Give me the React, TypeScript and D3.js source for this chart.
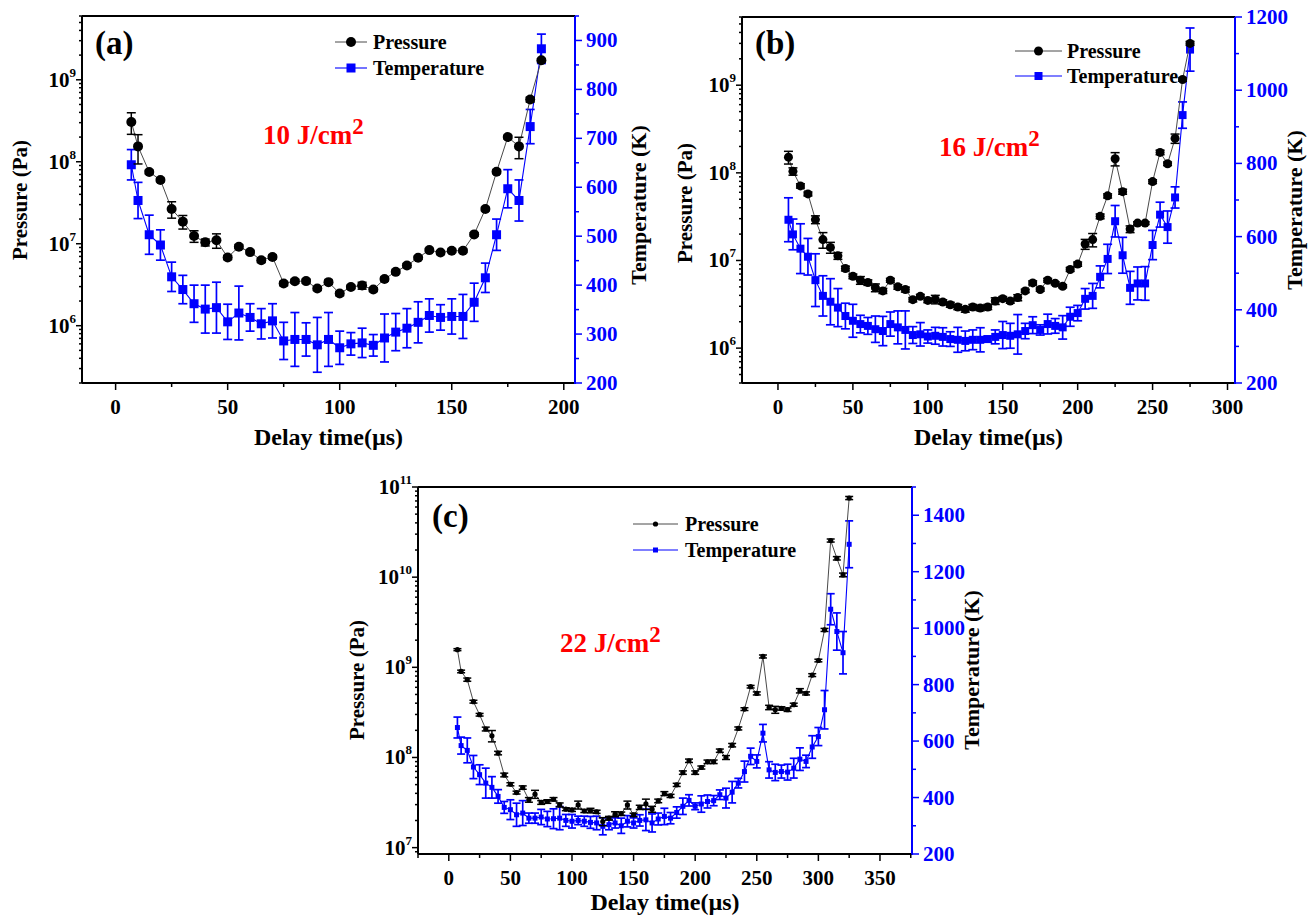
import React from "react";
import * as d3 from "d3";

// ---- panel (a) 10 J/cm2 ----
const aTime = [7, 10, 15, 20, 25, 30, 35, 40, 45, 50, 55, 60, 65, 70, 75, 80, 85, 90, 95, 100, 105, 110, 115, 120, 125, 130, 135, 140, 145, 150, 155, 160, 165, 170, 175, 180, 185, 190];
const aPressure = [3.06e8, 1.54e8, 7.5e7, 6.0e7, 2.65e7, 1.86e7, 1.24e7, 1.04e7, 1.1e7, 6.8e6, 9.2e6, 7.9e6, 6.3e6, 6.9e6, 3.27e6, 3.49e6, 3.5e6, 2.84e6, 3.4e6, 2.47e6, 2.97e6, 3.09e6, 2.76e6, 3.72e6, 4.54e6, 5.43e6, 6.75e6, 8.36e6, 7.8e6, 8.2e6, 8.2e6, 1.3e7, 2.65e7, 7.55e7, 2.0e8, 1.54e8, 5.74e8, 1.73e9];
const aPressureErr = [9e7, 6e7, 4e6, 3e6, 6e6, 3.5e6, 2e6, 1e6, 2.2e6, 4e5, 5e5, 4e5, 4e5, 4e5, 2e5, 2e5, 2e5, 1.5e5, 2e5, 1.5e5, 1.5e5, 3e5, 1.5e5, 2e5, 2e5, 3e5, 3e5, 4e5, 4e5, 4e5, 4e5, 6e5, 1.3e6, 4e6, 1e7, 4.5e7, 4e7, 8e7];
const aTemp = [646, 573, 503, 482, 417, 391, 362, 351, 354, 325, 343, 334, 321, 327, 286, 289, 289, 278, 289, 272, 280, 282, 277, 292, 304, 312, 324, 338, 334, 336, 336, 365, 415, 503, 597, 573, 724, 883];
const aTempErr = [31, 37, 40, 31, 30, 29, 38, 49, 52, 36, 55, 28, 31, 35, 38, 55, 34, 56, 55, 34, 23, 30, 22, 49, 38, 40, 42, 34, 26, 36, 45, 39, 30, 32, 39, 42, 35, 30];

// ---- panel (b) 16 J/cm2 ----
const bTime = [7, 10, 15, 20, 25, 30, 35, 40, 45, 50, 55, 60, 65, 70, 75, 80, 85, 90, 95, 100, 105, 110, 115, 120, 125, 130, 135, 140, 145, 150, 155, 160, 165, 170, 175, 180, 185, 190, 195, 200, 205, 210, 215, 220, 225, 230, 235, 240, 245, 250, 255, 260, 265, 270, 275];
const bPressure = [1.51e8, 1.04e8, 7.1e7, 5.75e7, 2.93e7, 1.73e7, 1.41e7, 1.13e7, 8.1e6, 6.6e6, 5.95e6, 5.6e6, 4.9e6, 4.5e6, 5.95e6, 5.0e6, 4.66e6, 3.57e6, 3.9e6, 3.5e6, 3.6e6, 3.36e6, 3.13e6, 2.95e6, 2.77e6, 2.95e6, 2.87e6, 2.95e6, 3.45e6, 3.67e6, 3.45e6, 3.77e6, 4.5e6, 5.55e6, 4.66e6, 5.95e6, 5.5e6, 5.08e6, 7.9e6, 9.1e6, 1.54e7, 1.73e7, 3.19e7, 5.46e7, 1.45e8, 6.1e7, 2.28e7, 2.67e7, 2.67e7, 7.94e7, 1.71e8, 1.27e8, 2.47e8, 1.16e9, 3.0e9];
const bPressureErr = [2.5e7, 1e7, 4e6, 3e6, 3e6, 3.5e6, 2e6, 1e6, 5e5, 4e5, 6e5, 4e5, 5e5, 3e5, 3e5, 3e5, 3e5, 2e5, 2e5, 2e5, 4e5, 2e5, 2e5, 2e5, 2e5, 2e5, 2e5, 2e5, 3e5, 2e5, 2e5, 3e5, 2e5, 3e5, 2e5, 3e5, 2e5, 2e5, 4e5, 5e5, 2e6, 3e6, 2e6, 3e6, 2.5e7, 4e6, 2e6, 1e6, 1e6, 4e6, 1e7, 6e6, 3e7, 5e7, 1.5e8];
const bTemp = [646, 606, 567, 545, 481, 438, 422, 406, 383, 370, 361, 356, 347, 342, 361, 352, 345, 331, 333, 327, 329, 326, 320, 318, 315, 318, 318, 320, 326, 331, 329, 333, 342, 358, 345, 361, 356, 352, 381, 391, 430, 438, 490, 539, 642, 549, 460, 472, 472, 577, 660, 626, 707, 932, 1111];
const bTempErr = [60, 42, 68, 50, 72, 55, 63, 52, 35, 45, 24, 23, 36, 40, 33, 45, 52, 23, 32, 18, 23, 25, 20, 34, 27, 27, 33, 8, 19, 37, 34, 54, 21, 23, 14, 27, 20, 32, 26, 21, 28, 34, 30, 40, 43, 49, 45, 45, 46, 40, 34, 44, 29, 36, 59];

// ---- panel (c) 22 J/cm2 ----
const cTime = [7, 10, 15, 20, 25, 30, 35, 40, 45, 50, 55, 60, 65, 70, 75, 80, 85, 90, 95, 100, 105, 110, 115, 120, 125, 130, 135, 140, 145, 150, 155, 160, 165, 170, 175, 180, 185, 190, 195, 200, 205, 210, 215, 220, 225, 230, 235, 240, 245, 250, 255, 260, 265, 270, 275, 280, 285, 290, 295, 300, 305, 310, 315, 320, 325];
const cPressure = [1.57e9, 9.0e8, 7.3e8, 4.16e8, 2.98e8, 2.07e8, 1.74e8, 1.12e8, 6.4e7, 5.05e7, 4.08e7, 4.64e7, 3.39e7, 3.92e7, 3.17e7, 3.25e7, 3.44e7, 2.98e7, 2.67e7, 2.62e7, 2.98e7, 2.55e7, 2.58e7, 2.5e7, 1.95e7, 2.12e7, 2.35e7, 2.38e7, 2.98e7, 2.31e7, 2.8e7, 3.05e7, 2.67e7, 3.3e7, 3.98e7, 3.75e7, 4.97e7, 6.8e7, 9.2e7, 6.8e7, 7.74e7, 8.96e7, 8.96e7, 1.19e8, 1.0e8, 1.37e8, 2.1e8, 3.44e8, 6.1e8, 5.14e8, 1.32e9, 3.59e8, 3.39e8, 3.5e8, 3.39e8, 3.85e8, 5.5e8, 5.14e8, 8.2e8, 1.19e9, 2.6e9, 2.55e10, 1.62e10, 1.06e10, 7.55e10];
const cPressureErr = [4e7, 3e7, 3e7, 1.5e7, 1e7, 1e7, 2.5e7, 5e6, 3e6, 2e6, 1.5e6, 2e6, 2e6, 4e6, 1.5e6, 1.5e6, 1.5e6, 1.5e6, 1e6, 1e6, 3e6, 1e6, 1.5e6, 1e6, 2e6, 1e6, 1.5e6, 1e6, 3e6, 1e6, 1.5e6, 4e6, 2e6, 1.5e6, 2e6, 1.5e6, 2e6, 3e6, 4e6, 3e6, 3e6, 4e6, 4e6, 5e6, 5e6, 6e6, 8e6, 1.2e7, 2e7, 2e7, 5e7, 2e7, 3e7, 1.5e7, 1.5e7, 1.5e7, 3e7, 2e7, 3e7, 4e7, 1e8, 1e9, 7e8, 5e8, 3e9];
const cTemp = [648, 584, 567, 508, 481, 451, 436, 404, 365, 357, 339, 345, 327, 327, 331, 324, 325, 327, 319, 316, 319, 316, 312, 310, 298, 304, 310, 300, 316, 310, 319, 321, 310, 324, 333, 327, 347, 369, 390, 369, 377, 386, 389, 410, 398, 419, 451, 492, 546, 528, 628, 498, 489, 492, 490, 504, 536, 528, 579, 616, 711, 1067, 988, 913, 1297];
const cTempErr = [37, 30, 44, 41, 35, 53, 38, 24, 21, 35, 41, 44, 18, 18, 27, 27, 35, 41, 21, 24, 15, 18, 21, 24, 30, 18, 18, 27, 20, 18, 20, 38, 32, 21, 29, 20, 20, 29, 20, 12, 29, 23, 18, 17, 35, 38, 17, 37, 29, 23, 31, 29, 29, 23, 28, 35, 40, 22, 40, 32, 68, 55, 66, 75, 83];

// tick values
const aXTicks = [0, 50, 100, 150, 200];
const bXTicks = [0, 50, 100, 150, 200, 250, 300];
const cXTicks = [0, 50, 100, 150, 200, 250, 300, 350];
const aTTicks = [200, 300, 400, 500, 600, 700, 800, 900];
const bTTicks = [200, 400, 600, 800, 1000, 1200];
const cTTicks = [200, 400, 600, 800, 1000, 1200, 1400];

const FONT = "'Liberation Serif', 'Times New Roman', serif";
const BLUE = "#0000ff";
const RED = "#ff0000";

type Cfg = {
  name: string;
  energy: string;
  time: number[];
  pressure: number[];
  pressureErr: number[];
  temp: number[];
  tempErr: number[];
  xTicks: number[];
  tTicks: number[];
  xDomain: [number, number];
  pDomain: [number, number];
  tDomain: [number, number];
  left: number;
  right: number;
  top: number;
  bottom: number;
  pR: number;
  tSize: number;
  cap: number;
  nameX: number;
  nameY: number;
  energyX: number;
  energyY: number;
  legX1: number;
  legX2: number;
  legText: number;
  legY1: number;
  legY2: number;
  pTitleX: number;
  pTitleY: number;
  tTitleX: number;
  tTitleY: number;
  xTitleY: number;
};

const panels: Cfg[] = [
  {
    name: "(a)", energy: "10 J/cm", time: aTime, pressure: aPressure, pressureErr: aPressureErr,
    temp: aTemp, tempErr: aTempErr, xTicks: aXTicks, tTicks: aTTicks,
    xDomain: [-15, 205], pDomain: [2e5, 6e9], tDomain: [200, 950],
    left: 82, right: 575, top: 16, bottom: 383, pR: 5, tSize: 9, cap: 4.5,
    nameX: 95, nameY: 54, energyX: 263, energyY: 144,
    legX1: 335, legX2: 367, legText: 373, legY1: 42, legY2: 68,
    pTitleX: 20, pTitleY: 200, tTitleX: 639, tTitleY: 205, xTitleY: 445,
  },
  {
    name: "(b)", energy: "16 J/cm", time: bTime, pressure: bPressure, pressureErr: bPressureErr,
    temp: bTemp, tempErr: bTempErr, xTicks: bXTicks, tTicks: bTTicks,
    xDomain: [-24, 305], pDomain: [4e5, 6e9], tDomain: [200, 1200],
    left: 742, right: 1235, top: 17, bottom: 383, pR: 4.5, tSize: 8, cap: 4.5,
    nameX: 755, nameY: 54, energyX: 939, energyY: 156,
    legX1: 1015, legX2: 1062, legText: 1067, legY1: 51, legY2: 76,
    pTitleX: 685, pTitleY: 203, tTitleX: 1295, tTitleY: 210, xTitleY: 445,
  },
  {
    name: "(c)", energy: "22 J/cm", time: cTime, pressure: cPressure, pressureErr: cPressureErr,
    temp: cTemp, tempErr: cTempErr, xTicks: cXTicks, tTicks: cTTicks,
    xDomain: [-25, 376], pDomain: [8.5e6, 1e11], tDomain: [200, 1500],
    left: 418, right: 912, top: 487, bottom: 854, pR: 2.6, tSize: 5, cap: 4,
    nameX: 432, nameY: 527, energyX: 560, energyY: 652,
    legX1: 633, legX2: 678, legText: 685, legY1: 524, legY2: 550,
    pTitleX: 357, pTitleY: 680, tTitleX: 972, tTitleY: 670, xTitleY: 910,
  },
];

function Panel({ p }: { p: Cfg }) {
  const x = d3.scaleLinear().domain(p.xDomain).range([p.left, p.right]);
  const yP = d3.scaleLog().domain(p.pDomain).range([p.bottom, p.top]);
  const yT = d3.scaleLinear().domain(p.tDomain).range([p.bottom, p.top]);

  const pLine = d3.line<number>().x((_, i) => x(p.time[i])).y((v) => yP(v));
  const tLine = d3.line<number>().x((_, i) => x(p.time[i])).y((v) => yT(v));

  const logTicks = yP.ticks();
  const isMajor = (v: number) => Math.abs(Math.log10(v) - Math.round(Math.log10(v))) < 1e-6;
  const xMinor = d3.range(Math.ceil(p.xDomain[0] / 25) * 25, p.xDomain[1], 25);
  const tStep = p.tTicks[1] - p.tTicks[0];
  const tMinor = d3.range(p.tDomain[0], p.tDomain[1] + 0.1, tStep / 2);

  const midX = (p.left + p.right) / 2;
  const half = p.tSize / 2;

  return (
    <g>
      {/* temperature series */}
      <path d={tLine(p.temp) || ""} fill="none" stroke={BLUE} strokeWidth={1.1} />
      {p.temp.map((v, i) => {
        const cx = x(p.time[i]);
        const y1 = yT(v + p.tempErr[i]);
        const y2 = yT(v - p.tempErr[i]);
        return (
          <g key={"t" + i} stroke={BLUE} strokeWidth={1.7}>
            <line x1={cx} x2={cx} y1={y1} y2={y2} />
            <line x1={cx - p.cap} x2={cx + p.cap} y1={y1} y2={y1} />
            <line x1={cx - p.cap} x2={cx + p.cap} y1={y2} y2={y2} />
            <rect x={cx - half} y={yT(v) - half} width={p.tSize} height={p.tSize} fill={BLUE} stroke="none" />
          </g>
        );
      })}

      {/* pressure series */}
      <path d={pLine(p.pressure) || ""} fill="none" stroke="#4a4a4a" strokeWidth={1} />
      {p.pressure.map((v, i) => {
        const cx = x(p.time[i]);
        const y1 = yP(v + p.pressureErr[i]);
        const y2 = yP(Math.max(v - p.pressureErr[i], v * 0.05));
        return (
          <g key={"p" + i} stroke="#000" strokeWidth={1.5}>
            <line x1={cx} x2={cx} y1={y1} y2={y2} />
            <line x1={cx - p.cap} x2={cx + p.cap} y1={y1} y2={y1} />
            <line x1={cx - p.cap} x2={cx + p.cap} y1={y2} y2={y2} />
            <circle cx={cx} cy={yP(v)} r={p.pR} fill="#000" stroke="none" />
          </g>
        );
      })}

      {/* frame */}
      <line x1={p.left} x2={p.right} y1={p.top} y2={p.top} stroke="#000" strokeWidth={2} />
      <line x1={p.left} x2={p.left} y1={p.top} y2={p.bottom} stroke="#000" strokeWidth={2} />
      <line x1={p.left} x2={p.right} y1={p.bottom} y2={p.bottom} stroke="#000" strokeWidth={2} />
      <line x1={p.right} x2={p.right} y1={p.top} y2={p.bottom + 1} stroke={BLUE} strokeWidth={2} />

      {/* left log axis */}
      {logTicks.map((v, i) => {
        const yy = yP(v);
        const major = isMajor(v);
        return <line key={"lt" + i} x1={p.left} x2={p.left - (major ? 6 : 3)} y1={yy} y2={yy} stroke="#000" strokeWidth={1.5} />;
      })}
      {logTicks.filter(isMajor).map((v) => {
        const e = Math.round(Math.log10(v));
        return (
          <text key={"ll" + e} x={p.left - 6} y={yP(v) + 7} textAnchor="end" fontSize={21} fontWeight="bold" fill="#000">
            10<tspan dy={-10} fontSize={13}>{e}</tspan>
          </text>
        );
      })}

      {/* bottom axis */}
      {xMinor.map((v) => {
        const major = v % 50 === 0;
        return <line key={"xt" + v} x1={x(v)} x2={x(v)} y1={p.bottom} y2={p.bottom + (major ? 7 : 4)} stroke="#000" strokeWidth={1.5} />;
      })}
      {p.xTicks.map((v) => (
        <text key={"xl" + v} x={x(v)} y={p.bottom + 31} textAnchor="middle" fontSize={21} fontWeight="bold" fill="#000">
          {v}
        </text>
      ))}

      {/* right temperature axis */}
      {tMinor.map((v) => {
        const major = (v - p.tDomain[0]) % tStep === 0;
        return <line key={"rt" + v} x1={p.right} x2={p.right + (major ? 7 : 4)} y1={yT(v)} y2={yT(v)} stroke={BLUE} strokeWidth={1.5} />;
      })}
      {p.tTicks.map((v) => (
        <text key={"rl" + v} x={p.right + 11} y={yT(v) + 7} textAnchor="start" fontSize={21} fontWeight="bold" fill={BLUE}>
          {v}
        </text>
      ))}

      {/* titles */}
      <text transform={`translate(${p.pTitleX},${p.pTitleY}) rotate(-90)`} y={7} textAnchor="middle" fontSize={21} fontWeight="bold" fill="#000">
        Pressure (Pa)
      </text>
      <text transform={`translate(${p.tTitleX},${p.tTitleY}) rotate(-90)`} y={7} textAnchor="middle" fontSize={22} fontWeight="bold" fill="#000">
        Temperature (K)
      </text>
      <text x={midX} y={p.xTitleY} textAnchor="middle" fontSize={24} fontWeight="bold" fill="#000">
        Delay time(µs)
      </text>

      {/* annotations */}
      <text x={p.nameX} y={p.nameY} fontSize={33} fontWeight="bold" fill="#000">
        {p.name}
      </text>
      <text x={p.energyX} y={p.energyY} fontSize={27} fontWeight="bold" fill={RED}>
        {p.energy}
        <tspan dy={-10} fontSize={23}>2</tspan>
      </text>

      {/* legend */}
      <line x1={p.legX1} x2={p.legX2} y1={p.legY1} y2={p.legY1} stroke="#4a4a4a" strokeWidth={1} />
      <circle cx={(p.legX1 + p.legX2) / 2} cy={p.legY1} r={p.pR} fill="#000" />
      <text x={p.legText} y={p.legY1 + 7} fontSize={20} fontWeight="bold" fill="#000">
        Pressure
      </text>
      <line x1={p.legX1} x2={p.legX2} y1={p.legY2} y2={p.legY2} stroke={BLUE} strokeWidth={1.1} />
      <rect x={(p.legX1 + p.legX2) / 2 - half} y={p.legY2 - half} width={p.tSize} height={p.tSize} fill={BLUE} />
      <text x={p.legText} y={p.legY2 + 7} fontSize={20} fontWeight="bold" fill="#000">
        Temperature
      </text>
    </g>
  );
}

export default function App() {
  return (
    <svg
      width={1314}
      height={919}
      style={{ position: "absolute", left: 0, top: 0, background: "#fff" }}
      fontFamily={FONT}
    >
      <rect width={1314} height={919} fill="#fff" />
      {panels.map((p) => (
        <Panel key={p.name} p={p} />
      ))}
    </svg>
  );
}
